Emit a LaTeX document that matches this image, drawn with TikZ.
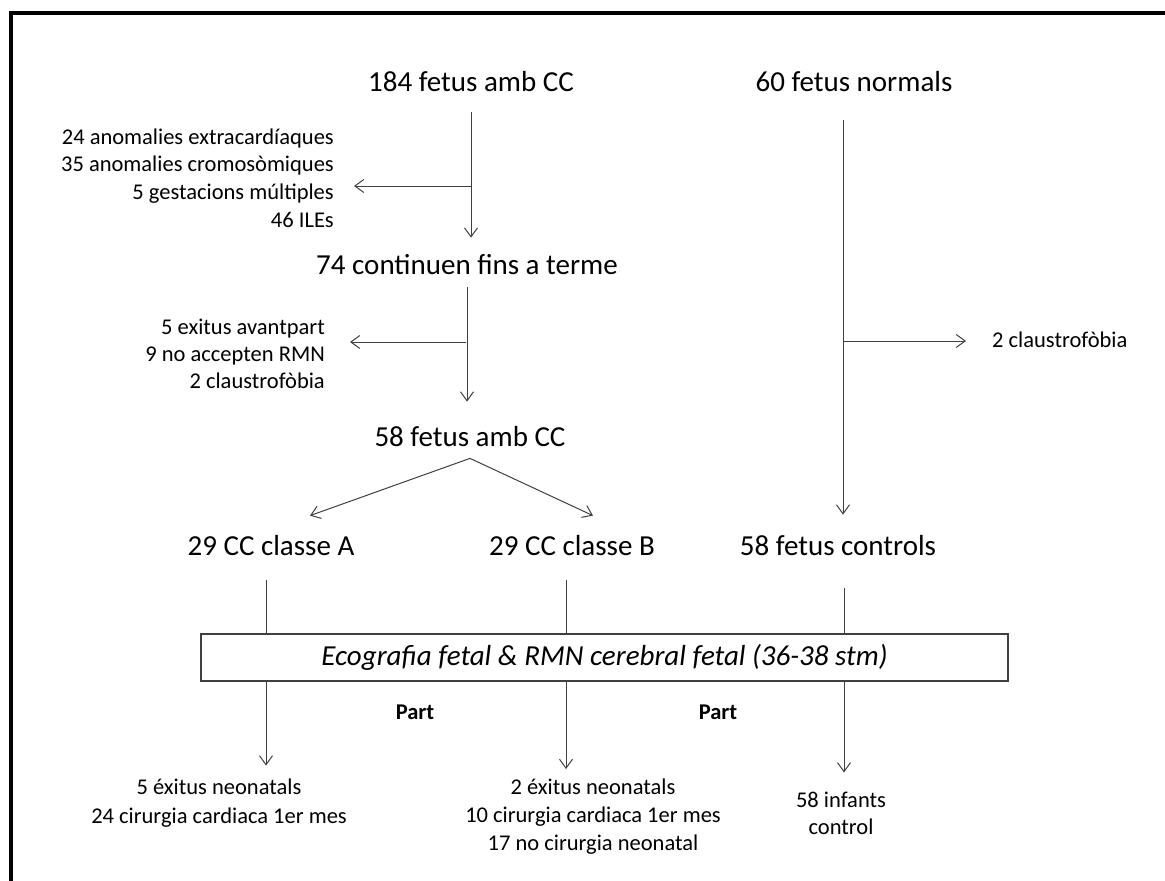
\documentclass[tikz,border=0pt]{standalone}
\usepackage{fontspec}
\setmainfont{Carlito}
\usetikzlibrary{arrows.meta}

\tikzset{
  big/.style={inner sep=0pt, font=\fontsize{29}{35}\selectfont},
  small/.style={inner sep=0pt, align=center, font=\fontsize{22.5}{28}\selectfont},
  flow/.style={draw=black!75, line width=1pt, -{Straight Barb[length=9pt,width=13pt]}},
  plain/.style={draw=black!75, line width=1pt},
}

\begin{document}
\begin{tikzpicture}[x=1pt, y=-1pt]
\useasboundingbox (0,0) rectangle (1165,881);
\draw[line width=4pt] (10.5,881) -- (10.5,12.5) -- (1165,12.5);

% main counts
\node[big] at(471, 82)(n184){184 fetus amb CC};
\node[big] at(854, 82)(n60){60 fetus normals};
\node[big] at(467, 265)(n74){74 continuen fins a terme};
\node[big] at(470, 437)(n58){58 fetus amb CC};
\node[big] at(271, 546)(clA){29 CC classe A};
\node[big] at(572, 546)(clB){29 CC classe B};
\node[big] at(838, 546)(ctl){58 fetus controls};
\node[big, draw=black!75, line width=1.2pt, minimum width=807pt, minimum height=47pt,
  font=\fontsize{29}{35}\selectfont\itshape] at(604.5, 657.5)(eco){Ecografia fetal \& RMN cerebral fetal (36-38 stm)};

% exclusions
\node[small, align=right, anchor=east, font=\fontsize{22.5}{27.7}\selectfont] at(334, 178)(ex1){24 anomalies extracardíaques\\35 anomalies cromosòmiques\\5 gestacions múltiples\\46 ILEs};
\node[small, align=right, anchor=east, font=\fontsize{22.5}{27}\selectfont] at(325, 353.5)(ex2){5 exitus avantpart\\9 no accepten RMN\\2 claustrofòbia};
\node[small, anchor=west] at(992, 340)(ex3){2 claustrofòbia};

% outcomes
\node[small, font=\fontsize{22.5}{29}\selectfont] at(219, 803)(outA){5 éxitus neonatals\\24 cirurgia cardiaca 1er mes};
\node[small] at(593, 817)(outB){2 éxitus neonatals\\10 cirurgia cardiaca 1er mes\\17 no cirurgia neonatal};
\node[small, font=\fontsize{22.5}{27}\selectfont] at(841, 813)(outC){58 infants\\control};
\node[small, font=\fontsize{22.5}{28}\selectfont\bfseries] at(415, 712)(partL){Part};
\node[small, font=\fontsize{22.5}{28}\selectfont\bfseries] at(718, 712)(partR){Part};

% columns and branch points
\coordinate (j1) at (471, 186);
\coordinate (j2) at (466, 342);
\coordinate (j3) at (843, 341);
\coordinate (sp) at ([yshift=-11pt]n58.south);
\coordinate (ca) at ([xshift=-5pt]clA.south);
\coordinate (cb) at ([xshift=-6pt]clB.south);
\coordinate (cc) at ([xshift=6pt]ctl.south);
\coordinate (cn) at ([xshift=-11pt]n60.south);

\draw[flow, shorten <=20pt, shorten >=17pt] (n184) -- (n184 |- n74.north);
\draw[flow, shorten >=20pt] (j1) -- (j1 -| ex1.east);
\draw[flow, shorten <=12pt, shorten >=25pt] (n74) -- (n74 |- n58.north);
\draw[flow, shorten >=25pt] (j2) -- (j2 -| ex2.east);
\draw[flow] (sp) -- ([shift={(39,-20)}]clA.north);
\draw[flow] (sp) -- ([shift={(21,-20)}]clB.north);
\draw[flow, shorten <=28pt, shorten >=21pt] (cn) -- (cn |- ctl.north);
\draw[flow, shorten >=26pt] (j3) -- (j3 -| ex3.west);

\draw[plain, shorten <=24pt] (ca) -- (ca |- eco.north);
\draw[plain, shorten <=24pt] (cb) -- (cb |- eco.north);
\draw[plain, shorten <=32pt] (cc) -- (cc |- eco.north);
\draw[flow, shorten >=13pt] (ca |- eco.south) -- (ca |- outA.north);
\draw[flow, shorten >=10pt] (cb |- eco.south) -- (cb |- outB.north);
\draw[flow, shorten >=19pt] (cc |- eco.south) -- (cc |- outC.north);
\end{tikzpicture}
\end{document}
